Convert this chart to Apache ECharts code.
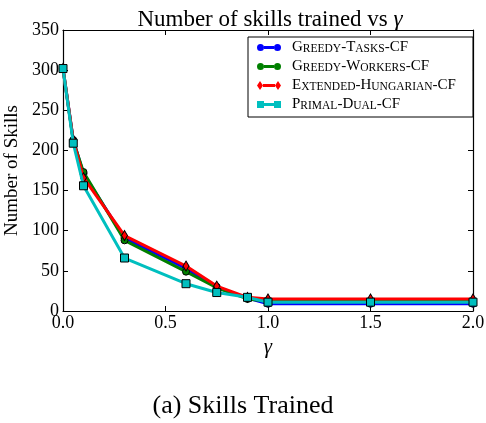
<!DOCTYPE html>
<html>
<head>
<meta charset="utf-8">
<script src="https://cdn.jsdelivr.net/npm/echarts@6/dist/echarts.min.js"></script>
<style>
  html, body { margin: 0; padding: 0; background: #fff; }
  #chart { width: 486px; height: 423px; }
</style>
</head>
<body>
<div id="chart"></div>
<script>
// gamma values on the x axis
const gammas = [0, 0.05, 0.1, 0.3, 0.6, 0.75, 0.9, 1.0, 1.5, 2.0];

// number of skills trained per algorithm
const greedyTasks = [302, 213, 171, 91, 53, 30, 16, 9, 9, 9];
const greedyWorkers = [302, 212, 173, 88, 49, 29, 15, 12, 12, 12];
const extendedHungarian = [302, 213, 166, 94, 56, 31, 17, 15, 15, 15];
const primalDual = [302, 209, 156, 66, 34, 23, 17, 11, 11, 11];

const seriesNames = ['Greedy-Tasks-CF', 'Greedy-Workers-CF', 'Extended-Hungarian-CF', 'Primal-Dual-CF'];
const xTicks = ['0.0', '0.5', '1.0', '1.5', '2.0'];

const FONT = '"Liberation Serif", "DejaVu Serif", serif';

// Legend glyphs: a short line with a marker at each end
const ICON_CIRCLE = 'path://M0,4.5A3.5,3.5,0,1,1,7,4.5A3.5,3.5,0,1,1,0,4.5ZM7,3L17,3L17,6L7,6ZM17,4.5A3.5,3.5,0,1,1,24,4.5A3.5,3.5,0,1,1,17,4.5Z';
const ICON_DIAMOND = 'path://M0,4.5L3,0L6,4.5L3,9ZM6,3L18,3L18,6L6,6ZM18,4.5L21,0L24,4.5L21,9Z';
const ICON_SQUARE = 'path://M0,1L7,1L7,8L0,8ZM7,3L17,3L17,6L7,6ZM17,1L24,1L24,8L17,8Z';

// Small-caps rendering through rich text: capitals stay large, lowercase letters become small capitals
function smallCaps(str) {
  let out = '{g| }';
  let cur = null, buf = '';
  for (const ch of str) {
    const isLower = ch !== ch.toUpperCase();
    const style = isLower ? 's' : 'b';
    if (style !== cur && buf) { out += '{' + cur + '|' + buf + '}'; buf = ''; }
    cur = style;
    buf += ch.toUpperCase();
  }
  if (buf) out += '{' + cur + '|' + buf + '}';
  return out;
}

function pairs(ys) { return gammas.map((g, i) => [g, ys[i]]); }

const chart = echarts.init(document.getElementById('chart'), null, { renderer: 'canvas' });

const baseAxis = {
  axisLine: { show: true, onZero: false, lineStyle: { color: '#000', width: 1.2 } },
  axisTick: { show: true, inside: true, length: 5, lineStyle: { color: '#000', width: 1 } },
  splitLine: { show: false }
};

function lineSeries(name, data, color, symbol, size, z) {
  return {
    name, type: 'line', data: pairs(data),
    xAxisIndex: 0, yAxisIndex: 0,
    symbol, symbolSize: size, showSymbol: true,
    lineStyle: { color, width: 3 },
    itemStyle: { color, borderColor: '#000', borderWidth: 1 },
    z, animation: false
  };
}

chart.setOption({
  animation: false,
  backgroundColor: '#fff',
  title: {
    text: 'Number of skills trained vs {g|γ}',
    left: 265, top: 3, textAlign: 'center',
    textStyle: {
      fontFamily: FONT, fontSize: 23, fontWeight: 'normal', color: '#000',
      rich: { g: { fontFamily: FONT, fontSize: 23, fontStyle: 'italic', color: '#000' } }
    }
  },
  grid: { left: 63, right: 13, top: 30, bottom: 112, outerBoundsMode: 'none', containLabel: false },
  legend: {
    orient: 'vertical',
    left: 248, top: 37,
    padding: [3, 17, 5, 9],
    itemGap: 4,
    itemWidth: 24, itemHeight: 9,
    borderColor: '#000', borderWidth: 1,
    backgroundColor: '#fff',
    itemStyle: { borderWidth: 0 },
    data: [
      { name: seriesNames[0], icon: ICON_CIRCLE },
      { name: seriesNames[1], icon: ICON_CIRCLE },
      { name: seriesNames[2], icon: ICON_DIAMOND },
      { name: seriesNames[3], icon: ICON_SQUARE }
    ],
    formatter: n => smallCaps(n),
    textStyle: {
      color: '#000', fontFamily: FONT,
      rich: {
        g: { width: 6, fontSize: 14, lineHeight: 15 },
        b: { fontSize: 15, fontFamily: FONT, color: '#000', verticalAlign: 'bottom', lineHeight: 15 },
        s: { fontSize: 11.5, fontFamily: FONT, color: '#000', verticalAlign: 'bottom', lineHeight: 15 }
      }
    }
  },
  xAxis: [
    Object.assign({}, baseAxis, {
      type: 'value', position: 'bottom', min: 0, max: 2, interval: 0.5,
      name: 'γ', nameLocation: 'middle', nameGap: 26,
      nameTextStyle: { fontFamily: FONT, fontSize: 21, fontStyle: 'italic', color: '#000' },
      axisLabel: {
        fontFamily: FONT, fontSize: 18, color: '#000', margin: 3,
        formatter: v => xTicks[Math.round(v / 0.5)]
      }
    }),
    Object.assign({}, baseAxis, {
      type: 'value', position: 'top', min: 0, max: 2, interval: 0.5,
      axisLabel: { show: false }
    })
  ],
  yAxis: [
    Object.assign({}, baseAxis, {
      type: 'value', position: 'left', min: 0, max: 350, interval: 50,
      name: 'Number of Skills', nameLocation: 'middle', nameGap: 38, nameRotate: 90,
      nameTextStyle: { fontFamily: FONT, fontSize: 19, color: '#000' },
      axisLabel: { fontFamily: FONT, fontSize: 18, color: '#000', margin: 4 }
    }),
    Object.assign({}, baseAxis, {
      type: 'value', position: 'right', min: 0, max: 350, interval: 50,
      axisLabel: { show: false }
    })
  ],
  graphic: [{
    type: 'text', left: 'center', top: 393,
    style: { text: '(a) Skills Trained', font: '26px ' + FONT, fill: '#000' }
  }],
  series: [
    lineSeries(seriesNames[0], greedyTasks, '#0000ff', 'circle', 7, 2),
    lineSeries(seriesNames[1], greedyWorkers, '#008000', 'circle', 7, 3),
    lineSeries(seriesNames[2], extendedHungarian, '#ff0000', 'diamond', [6, 10], 4),
    lineSeries(seriesNames[3], primalDual, '#00bfbf', 'rect', 8, 5)
  ]
});
</script>
</body>
</html>
